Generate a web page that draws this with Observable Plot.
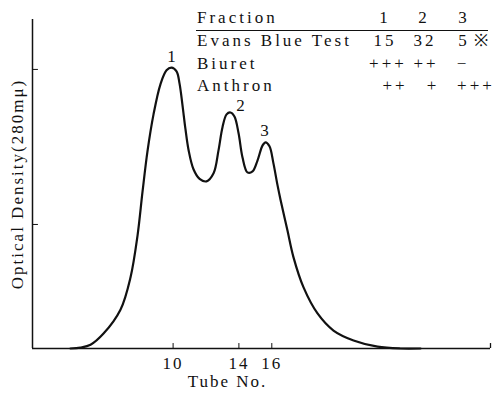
<!DOCTYPE html>
<html><head><meta charset="utf-8">
<script src="https://cdn.jsdelivr.net/npm/d3@7"></script>
<script src="https://cdn.jsdelivr.net/npm/@observablehq/plot@0.6"></script>
<style>
html,body{margin:0;padding:0;background:#fff;}
#wrap{position:relative;width:495px;height:402px;font-family:"Liberation Serif","DejaVu Serif",serif;color:#111;}
#wrap svg{position:absolute;left:0;top:0;}
.t{position:absolute;white-space:nowrap;font-size:17px;letter-spacing:3px;line-height:1;}
.c{transform:translate(-50%,-50%);}
.l{transform:translate(0,-50%);}
#hrule{position:absolute;left:196px;top:30px;width:292px;height:0;border-top:1.5px solid #111;}
</style></head><body><div id="wrap"></div>
<script>
// Curve: tube number vs optical density
const tube = [3.76,4.37,4.98,5.77,6.80,7.41,7.84,8.14,8.44,8.81,9.23,9.60,9.90,10.21,10.39,10.57,10.75,10.94,11.24,11.61,12.03,12.46,12.76,13.00,13.25,13.49,13.73,13.98,14.22,14.52,14.83,15.13,15.44,15.62,15.86,16.10,16.35,16.53,16.95,17.32,17.93,18.78,19.75,20.97,22.43,23.82,25.04];
const od   = [0,0.003,0.012,0.048,0.125,0.229,0.365,0.505,0.635,0.755,0.852,0.897,0.906,0.894,0.855,0.785,0.708,0.640,0.578,0.547,0.539,0.565,0.639,0.713,0.755,0.761,0.748,0.694,0.616,0.568,0.571,0.606,0.655,0.665,0.652,0.597,0.526,0.480,0.381,0.294,0.197,0.113,0.058,0.026,0.006,0,0];

const xDomain = [1.453, 29.295];
const yDomain = [0, 1.061];
const xTicks = [10, 14, 16];
const yTicks = [0.4, 0.9];

const peakLabels = ["1", "2", "3"];
const peakTube = [9.96, 14.16, 15.62];
const peakOD = [0.942, 0.785, 0.703];

const xLabel = "Tube No.";
const yLabel = "Optical Density(280mμ)";

// Table
const rowLabels = ["Fraction", "Evans Blue Test", "Biuret", "Anthron"];
const fractions = ["1", "2", "3"];
const evansBlue = ["15", "32", "5"];
const biuret = ["+++", "++", "−"];
const anthron = ["++", "+", "+++"];
const evansNote = "※";

const curve = tube.map((t, i) => ({tube: t, od: od[i]}));
const peaks = peakLabels.map((l, i) => ({label: l, tube: peakTube[i], od: peakOD[i]}));
const ink = "#111";

const chart = Plot.plot({
  width: 495, height: 402,
  marginLeft: 32, marginRight: 5, marginTop: 19, marginBottom: 54,
  x: {domain: xDomain},
  y: {domain: yDomain, axis: null},
  style: {fontFamily: '"Liberation Serif", "DejaVu Serif", serif', fontSize: "17px", color: ink, background: "transparent", letterSpacing: "2px"},
  marks: [
    Plot.ruleY([0], {stroke: ink, strokeWidth: 1.5}),
    Plot.ruleX([xDomain[0]], {stroke: ink, strokeWidth: 1.5}),
    Plot.ruleX([xDomain[1]], {y1: 0, y2: 0.016, stroke: ink, strokeWidth: 1.3}),
    Plot.ruleX(xTicks, {y1: 0, y2: 0.016, stroke: ink, strokeWidth: 1}),
    Plot.ruleY(yTicks, {x1: xDomain[0], x2: xDomain[0] + 0.36, stroke: ink, strokeWidth: 1}),
    Plot.axisX({ticks: xTicks, tickSize: 0, tickPadding: 8, label: null, fontSize: 17}),
    Plot.line(curve, {x: "tube", y: "od", curve: "catmull-rom", stroke: ink, strokeWidth: 2.2}),
    Plot.text(peaks, {x: "tube", y: "od", text: "label", fontSize: 17, fill: ink}),
    Plot.text([xLabel], {frameAnchor: "bottom", dx: -34, dy: 38, fontSize: 17, fill: ink}),
    Plot.text([yLabel], {frameAnchor: "left", textAnchor: "middle", rotate: -90, dx: -15, fontSize: 17, fill: ink})
  ]
});

const wrap = document.getElementById("wrap");
wrap.appendChild(chart);

// Table overlay (layout positions)
const rowY = [17, 40, 63, 85];
const colX = [[385, 424, 464], [385, 425, 464], [388, 426, 463], [395, 433, 476]];
const rows = [fractions, evansBlue, biuret, anthron];
function addText(txt, x, y, cls) {
  const s = document.createElement("div");
  s.className = "t " + cls;
  s.style.left = x + "px";
  s.style.top = y + "px";
  s.textContent = txt;
  wrap.appendChild(s);
}
rowLabels.forEach((l, i) => addText(l, 197, rowY[i], "l"));
rows.forEach((r, i) => r.forEach((v, j) => addText(v, colX[i][j], rowY[i], "c")));
addText(evansNote, 482, rowY[1], "c");
const hr = document.createElement("div");
hr.id = "hrule";
wrap.appendChild(hr);
</script>
</body></html>
